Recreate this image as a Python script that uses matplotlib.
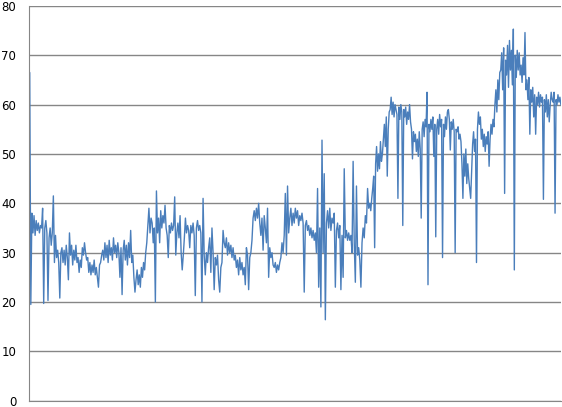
import numpy as np
import matplotlib.pyplot as plt

# values, left to right, in three stretches
part1 = [43, 66.5, 19.5, 38, 34, 37.5, 33.5, 36.5, 34.5, 36, 34, 35.5, 35,
         39, 19.7, 35, 36.5, 34, 20.3, 33, 35, 31.5, 34, 41.5, 28, 33.5, 29,
         30.5, 28, 20.8, 30, 31, 28, 30.5, 27.5, 31.5, 29, 24.5, 34,
         29.5, 31.5, 27.5, 30.5, 28.5, 31.5, 28, 29, 26, 28.5, 27,
         31, 29.5, 32, 30, 28.5, 29, 26, 28, 25.5, 27.5, 26, 28.5, 25.5, 27,
         25, 23, 27.5, 28, 29.5, 30.5,
         28.5, 32, 29, 31.5, 28, 32.5, 29.5, 31, 28.5, 33, 30, 31.5, 29, 32,
         30, 25, 31, 21.5, 30.5, 32.5, 28.5, 31.5, 27.5, 32, 29, 34.5,
         28, 29.5, 25, 22, 24.5, 26.5, 23.5, 25.5, 23, 27, 25, 28, 26.5,
         30, 32, 35.5, 39, 34, 37, 36, 32, 35, 20, 42.5,
         34, 37, 32, 38.5, 35, 37.5, 36, 39.6,
         35, 33.5, 29, 35.5, 34, 36, 34.5, 35.5, 41.3, 29.5,
         34, 36, 33, 37.5, 30, 26.5, 29.5, 33, 37, 34, 35.5, 34.5]

part2 = [31, 35.5, 34, 36, 33.5,
         21.3, 35, 36.5, 34.5, 35.5, 34, 20, 41, 29.5, 25.5, 30, 28,
         31, 33, 26, 35, 30, 22.5, 29, 27.5, 29.5, 24.5, 22, 27, 28,
         34.5, 32, 31, 33, 29.5, 32, 30, 31.5, 29, 31, 28.5, 29.5,
         27, 28.5, 25.5, 29, 26.5, 28, 25.5, 27, 23.5, 31, 29.5, 22.5, 29, 30,
         32.5, 37, 38.5, 36.5, 39, 37, 40, 36, 33.5, 37, 30.5, 37.5, 35,
         32, 39, 25, 31, 29, 30, 27.5, 27, 28, 26, 27.5, 26.5, 28,
         29, 32, 30, 33.5, 42, 29.5, 43.5, 34,
         37, 39, 35.5, 38, 36, 39, 37, 38.5, 35.5, 37.5, 36.5, 38, 36, 22,
         35.5, 36.5, 34.5, 35.5, 33.5, 35, 33, 34.5, 32.5, 34,
         30, 43, 23, 35, 19, 52.8, 30, 46, 16.4,
         36, 38.5, 35, 39, 34.5, 37, 36, 38, 23, 34.5, 36, 33, 35.5, 22.5,
         33.5, 25, 47, 33, 34.5, 32.5, 34, 32.5, 33.5,
         30, 48.5, 32, 24, 43.5, 29.5, 31, 28.5, 23,
         32, 35, 33, 37.5, 36, 43, 39]

part3 = [40, 38.5, 41, 43, 45.5, 31, 48, 51.5, 46.5, 50, 47, 52.5, 48.5, 50,
         53, 56, 51.5, 57.5, 45.5, 55, 58.5, 59, 61.5, 58, 60.5, 57.5, 60, 59,
         58, 41, 59.5, 57, 60, 58.5, 35.5, 59,
         57.5, 59.5, 56, 58.5, 57, 60, 56.5, 55, 49, 54.5,
         52.5, 54, 50.5, 53, 49.5, 54.5, 51, 37, 55,
         56.5, 53.5, 57, 55.5, 62.5, 23.5, 56,
         54.5, 57, 55, 57.5, 49.5, 56, 33.2, 55,
         57, 54, 58, 55.5, 57, 29, 56, 53.5, 57.5, 55, 58.5, 59, 57, 50.8,
         56.5, 55, 57, 54.5, 30, 55, 54.5, 55.5, 53, 54, 52.5,
         48, 41, 50, 45.5, 51, 44, 48, 45, 43, 41, 46.5,
         52, 54.5, 50.5, 53, 28, 55, 58.5, 56, 57.5,
         53, 55, 51.5, 54, 50.5, 53.5, 52, 54.5, 47.5, 53,
         56, 54, 57, 55.5, 60, 63, 58.5, 65, 61, 66.5,
         67, 70.5, 63, 71.5, 42, 69, 66, 72, 63.5, 73, 67, 71, 64, 75.3, 26.5,
         70, 65.5, 71, 67, 70.5, 66, 68, 64.5, 69.5, 66, 74.6, 63, 65,
         61, 65.5, 54, 63, 60.5, 63.5, 57.5, 62, 54, 61.5,
         60, 62.5, 59.5, 62, 60.5, 61.5, 40.8, 61, 58.5, 62, 57.5, 61, 56.5,
         60, 62.5, 61, 60.5, 62.5, 38, 61, 60, 62, 60.5, 61.5, 60]

# sample time of each stretch (arbitrary units, the x axis has no labels)
t1 = np.linspace(0, 161, len(part1), endpoint=False)
t2 = np.linspace(161, 341, len(part2), endpoint=False)
t3 = np.linspace(341, 532, len(part3))

values = np.array(part1 + part2 + part3)
t = np.concatenate([t1, t2, t3])

fig = plt.figure(figsize=(5.62, 4.07), dpi=100)
ax = fig.add_axes([0.051, 0.0155, 0.947, 0.97])

ax.plot(t, values, color='#4a7ebb', linewidth=1.0)

ax.set_ylim(0, 80)
ax.set_xlim(t[0], t[-1])
ax.set_yticks(range(0, 81, 10))
ax.set_xticks([])
ax.yaxis.grid(True, color='#868686', linewidth=1)
ax.set_axisbelow(True)
ax.tick_params(axis='y', length=0, labelsize=8.5, pad=9)
for s in ['top', 'right']:
    ax.spines[s].set_visible(False)
for s in ['left', 'bottom']:
    ax.spines[s].set_color('#868686')

fig.savefig('out.png', dpi=100)
